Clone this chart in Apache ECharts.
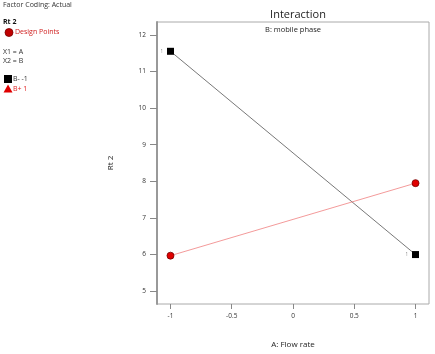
<!DOCTYPE html>
<html><head><meta charset="utf-8">
<script src="https://cdn.jsdelivr.net/npm/echarts@6/dist/echarts.min.js"></script>
<style>html,body{margin:0;padding:0;background:#fff}#c{width:435px;height:354px}</style>
</head><body><div id="c"></div>
<script>
const xLevels = [-1, 1];
const bMinus = [11.55, 6.0];
const bPlus = [5.97, 7.95];
const xTicks = [-1, -0.5, 0, 0.5, 1];
const yTicks = [5, 6, 7, 8, 9, 10, 11, 12];
const pointCountLabels = ['1', '1'];

const F = '"Open Sans", "Noto Sans", sans-serif';
const chart = echarts.init(document.getElementById('c'), null, {renderer: 'canvas'});
chart.setOption({
  animation: false,
  backgroundColor: '#fff',
  textStyle: {fontFamily: F},
  title: {text: 'Interaction', left: 293, top: 4, textAlign: 'center',
    textStyle: {fontSize: 11, fontWeight: 'normal', color: '#222', fontFamily: F}},
  grid: {left: 157, right: 6, top: 22, bottom: 49, show: true, borderColor: '#aaa', borderWidth: 1},
  xAxis: {type: 'value', min: -1.11, max: 1.11,
    name: 'A: Flow rate', nameLocation: 'middle', nameGap: 37,
    nameTextStyle: {fontSize: 8, color: '#222', fontFamily: F},
    axisLine: {show: false, onZero: false}, splitLine: {show: false},
    axisTick: {show: true, customValues: xTicks, length: 5, lineStyle: {color: '#888'}},
    axisLabel: {customValues: xTicks, fontSize: 6.5, color: '#333', margin: 9, fontFamily: F,
      formatter: v => String(v)}},
  yAxis: {type: 'value', min: 4.65, max: 12.35,
    name: 'Rt 2', nameLocation: 'middle', nameGap: 42, nameRotate: 90,
    nameTextStyle: {fontSize: 8, color: '#222', fontFamily: F},
    axisLine: {show: true, onZero: false, lineStyle: {color: '#999', width: 2}}, splitLine: {show: false},
    axisTick: {show: true, customValues: yTicks, length: 7, lineStyle: {color: '#888'}},
    axisLabel: {customValues: yTicks, fontSize: 6.5, color: '#333', margin: 11, fontFamily: F}},
  graphic: [
    {type: 'text', x: 293, y: 26, style: {text: 'B: mobile phase', font: '7.5px ' + F, fill: '#222', align: 'center', textAlign: 'center'}},
    {type: 'text', x: 3, y: 1, style: {text: 'Factor Coding: Actual', font: '7px ' + F, fill: '#333'}},
    {type: 'text', x: 3, y: 18, style: {text: 'Rt 2', font: 'bold 7px ' + F, fill: '#111'}},
    {type: 'circle', shape: {cx: 9, cy: 32.5, r: 4}, style: {fill: '#c00000', stroke: '#700', lineWidth: 0.8}},
    {type: 'text', x: 15, y: 28.5, style: {text: 'Design Points', font: '7px ' + F, fill: '#d02020'}},
    {type: 'text', x: 3, y: 48, style: {text: 'X1 = A', font: '7px ' + F, fill: '#333'}},
    {type: 'text', x: 3, y: 57, style: {text: 'X2 = B', font: '7px ' + F, fill: '#333'}},
    {type: 'rect', shape: {x: 4, y: 75, width: 8, height: 8}, style: {fill: '#000'}},
    {type: 'text', x: 13, y: 75, style: {text: 'B- -1', font: '7px ' + F, fill: '#333'}},
    {type: 'polygon', shape: {points: [[8, 84.5], [3.5, 92.5], [12.5, 92.5]]}, style: {fill: '#e00000'}},
    {type: 'text', x: 13, y: 85, style: {text: 'B+ 1', font: '7px ' + F, fill: '#e02020'}}
  ],
  series: [
    {type: 'line', name: 'B- -1', data: xLevels.map((x, i) => [x, bMinus[i]]),
      symbol: 'rect', symbolSize: 7, itemStyle: {color: '#000'},
      lineStyle: {color: '#555', width: 0.8},
      label: {show: true, position: 'left', distance: 4, fontSize: 4.5, color: '#888',
        formatter: p => pointCountLabels[p.dataIndex]}},
    {type: 'line', name: 'B+ 1', data: xLevels.map((x, i) => [x, bPlus[i]]),
      symbol: 'circle', symbolSize: 7, itemStyle: {color: '#e00000', borderColor: '#700', borderWidth: 0.8},
      lineStyle: {color: '#f08080', width: 0.8}}
  ]
});
</script></body></html>
